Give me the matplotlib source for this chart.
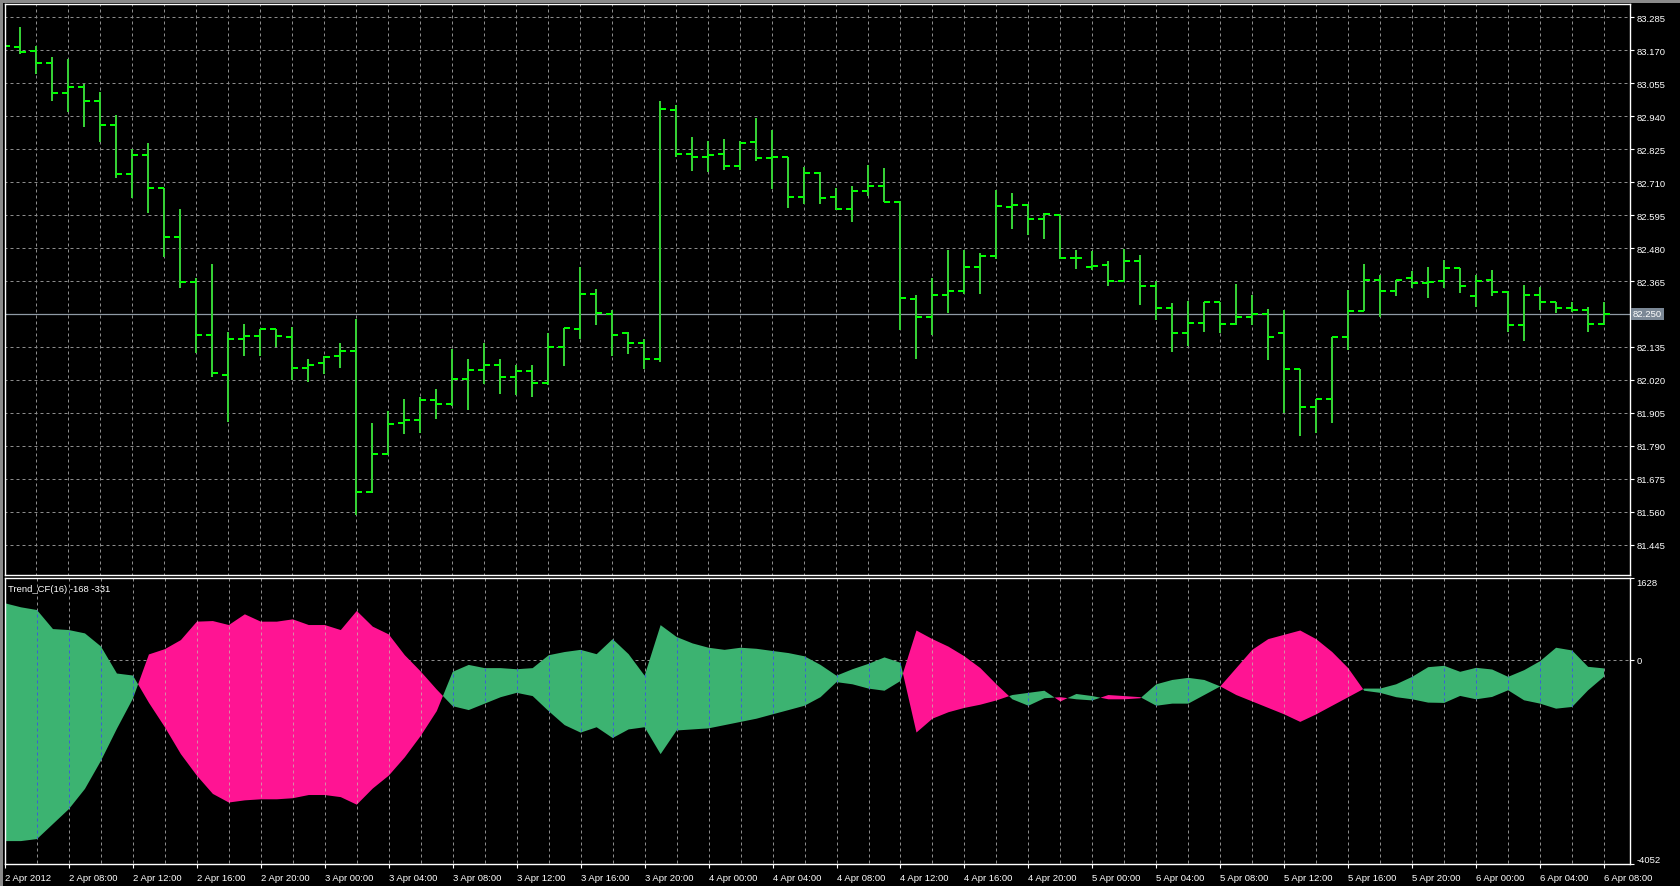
#!/usr/bin/env python
# -*- coding: utf-8 -*-

import numpy as np
import matplotlib
matplotlib.use("Agg")
import matplotlib.pyplot as plt
from matplotlib.path import Path
from matplotlib.patches import Rectangle
from matplotlib.transforms import blended_transform_factory

plt.rcParams["font.family"] = ["Liberation Sans", "DejaVu Sans"]

# USDJPY H1, 2 Apr 2012 04:00 .. 6 Apr 2012 08:00
opens = [
    83.190, 83.182, 83.166, 83.127, 83.021, 83.043, 82.994, 82.910, 82.738, 82.804,
    82.689, 82.518, 82.362, 82.177, 82.037, 82.162, 82.172, 82.197, 82.169, 82.060,
    82.078, 82.102, 82.121, 81.629, 81.761, 81.868, 81.880, 81.950, 81.935, 82.023,
    82.055, 82.071, 82.030, 82.051, 82.008, 82.134, 82.197, 82.319, 82.251, 82.185,
    82.149, 82.092, 82.962, 82.808, 82.798, 82.808, 82.767, 82.851, 82.795, 82.798,
    82.658, 82.743, 82.658, 82.616, 82.679, 82.697, 82.641, 82.303, 82.239, 82.315,
    82.329, 82.414, 82.453, 82.624, 82.631, 82.581, 82.596, 82.446, 82.414, 82.421,
    82.364, 82.435, 82.348, 82.270, 82.184, 82.218, 82.290, 82.215, 82.240, 82.250,
    82.184, 82.058, 81.925, 81.954, 82.169, 82.261, 82.369, 82.330, 82.374, 82.357,
    82.365, 82.412, 82.313, 82.369, 82.325, 82.213, 82.315, 82.290, 82.271, 82.264,
    82.216]
highs = [
    83.200, 83.250, 83.184, 83.145, 83.139, 83.052, 83.023, 82.945, 82.825, 82.845,
    82.689, 82.616, 82.374, 82.426, 82.188, 82.214, 82.199, 82.199, 82.206, 82.094,
    82.103, 82.150, 82.234, 81.871, 81.911, 81.952, 81.961, 81.987, 82.127, 82.092,
    82.148, 82.092, 82.071, 82.073, 82.185, 82.202, 82.414, 82.336, 82.264, 82.187,
    82.164, 82.992, 82.980, 82.869, 82.855, 82.862, 82.855, 82.932, 82.892, 82.798,
    82.762, 82.746, 82.688, 82.695, 82.770, 82.761, 82.645, 82.315, 82.377, 82.472,
    82.472, 82.461, 82.682, 82.672, 82.632, 82.602, 82.596, 82.474, 82.470, 82.436,
    82.477, 82.454, 82.364, 82.287, 82.294, 82.290, 82.290, 82.353, 82.315, 82.269,
    82.264, 82.058, 81.954, 82.171, 82.333, 82.424, 82.385, 82.369, 82.400, 82.415,
    82.438, 82.412, 82.385, 82.403, 82.329, 82.350, 82.344, 82.290, 82.290, 82.276,
    82.290]
lows = [
    83.180, 83.157, 83.087, 82.994, 82.953, 82.903, 82.851, 82.723, 82.655, 82.604,
    82.449, 82.339, 82.115, 82.031, 81.873, 82.103, 82.103, 82.133, 82.020, 82.013,
    82.039, 82.062, 81.548, 81.626, 81.759, 81.831, 81.836, 81.885, 81.929, 81.915,
    82.007, 81.972, 81.967, 81.961, 82.002, 82.069, 82.162, 82.213, 82.103, 82.112,
    82.057, 82.084, 82.796, 82.749, 82.747, 82.753, 82.753, 82.783, 82.685, 82.620,
    82.632, 82.635, 82.611, 82.571, 82.660, 82.639, 82.194, 82.092, 82.177, 82.252,
    82.321, 82.321, 82.443, 82.546, 82.526, 82.511, 82.443, 82.406, 82.405, 82.348,
    82.364, 82.282, 82.229, 82.117, 82.138, 82.187, 82.183, 82.212, 82.212, 82.090,
    81.903, 81.824, 81.833, 81.871, 82.124, 82.259, 82.241, 82.313, 82.339, 82.307,
    82.342, 82.323, 82.275, 82.311, 82.187, 82.156, 82.264, 82.252, 82.258, 82.188,
    82.211]
closes = [
    83.186, 83.165, 83.127, 83.021, 83.043, 82.994, 82.910, 82.738, 82.804, 82.689,
    82.520, 82.362, 82.177, 82.043, 82.162, 82.172, 82.197, 82.172, 82.060, 82.071,
    82.100, 82.121, 81.629, 81.761, 81.865, 81.880, 81.950, 81.935, 82.023, 82.055,
    82.071, 82.030, 82.051, 82.008, 82.134, 82.200, 82.319, 82.252, 82.177, 82.149,
    82.092, 82.966, 82.808, 82.798, 82.805, 82.767, 82.848, 82.794, 82.798, 82.658,
    82.743, 82.654, 82.616, 82.679, 82.697, 82.641, 82.306, 82.239, 82.315, 82.329,
    82.414, 82.453, 82.626, 82.631, 82.581, 82.599, 82.446, 82.446, 82.418, 82.364,
    82.435, 82.348, 82.270, 82.184, 82.218, 82.290, 82.215, 82.240, 82.250, 82.171,
    82.058, 81.925, 81.954, 82.169, 82.261, 82.369, 82.330, 82.369, 82.357, 82.362,
    82.412, 82.348, 82.365, 82.325, 82.213, 82.315, 82.290, 82.270, 82.263, 82.216,
    82.250]

# Trend_CF(16) buffers
trend_a = [
    1126, 1046, 992, 614, 594, 528, 269, -269, -309, -850,
    -1336, -1870, -2297, -2660, -2831, -2788, -2767, -2767, -2746, -2682,
    -2682, -2724, -2874, -2553, -2297, -1934, -1507, -1016, -235, -98,
    -162, -162, -184, -162, 94, 158, 201, 115, 414, 115,
    -312, 692, 457, 329, 243, 201, 243, 222, 179, 137,
    73, -98, -312, -184, -77, 51, -56, -1441, -1166, -1038,
    -952, -888, -803, -696, -653, -611, -824, -675, -717, -781,
    -781, -760, -483, -397, -355, -397, -525, -696, -824, -952,
    -1080, -1230, -1080, -909, -739, -568, -568, -483, -335, -143,
    -116, -235, -156, -189, -335, -203, -24, 243, 189, -136,
    -168]
trend_b = [
    -3597, -3597, -3557, -3258, -2960, -2561, -2003, -1365, -767, 110,
    215, 395, 761, 773, 694, 907, 761, 761, 807, 694,
    694, 594, 973, 662, 508, 96, -229, -587, -918, -995,
    -867, -739, -653, -717, -1016, -1294, -1443, -1336, -1550, -1379,
    -1336, -1870, -1400, -1379, -1358, -1294, -1230, -1166, -1080, -995,
    -909, -739, -440, -483, -568, -611, -418, 585, 414, 265,
    73, -162, -483, -781, -909, -760, -739, -781, -803, -696,
    -717, -739, -909, -867, -867, -696, -525, -162, 201, 414,
    500, 585, 414, 158, -162, -611, -653, -739, -781, -847,
    -853, -714, -781, -734, -602, -801, -867, -967, -933, -602,
    -331]

price_ticks = [81.445 + 0.115 * k for k in range(17)]
ind_ticks = [1628, 0, -4052]

time_idx = list(range(0, 101, 4))
time_labels = ["2 Apr 2012", "2 Apr 08:00", "2 Apr 12:00", "2 Apr 16:00", "2 Apr 20:00",
               "3 Apr 00:00", "3 Apr 04:00", "3 Apr 08:00", "3 Apr 12:00", "3 Apr 16:00",
               "3 Apr 20:00", "4 Apr 00:00", "4 Apr 04:00", "4 Apr 08:00", "4 Apr 12:00",
               "4 Apr 16:00", "4 Apr 20:00", "5 Apr 00:00", "5 Apr 04:00", "5 Apr 08:00",
               "5 Apr 12:00", "5 Apr 16:00", "5 Apr 20:00", "6 Apr 00:00", "6 Apr 04:00",
               "6 Apr 08:00"]

BG = "black"
FG = "white"
GRID = "#8c8c8c"
BAR_V = "#35cf35"
BAR_T = "#00ff00"
UP = "#3cb371"
DN = "#ff1493"
FS = 6.8

W, H = 1680, 887
fig = plt.figure(figsize=(W / 100, H / 100), dpi=100, facecolor=BG)


def px_axes(x0, y0, x1, y1):
    return fig.add_axes([x0 / W, 1 - y1 / H, (x1 - x0) / W, (y1 - y0) / H])


ax = px_axes(5, 5, 1630, 576)
ax2 = px_axes(5, 579, 1630, 865)

x = np.arange(len(closes))
xlim = (0.06, 101.62)
grid_x = np.arange(2, 101, 2)
dash = (0, (3, 3))

for a in (ax, ax2):
    a.set_facecolor(BG)
    a.set_xlim(*xlim)
    for s in a.spines.values():
        s.set_color(FG)
        s.set_linewidth(1.0)
    a.yaxis.tick_right()
    a.tick_params(axis="y", colors=FG, direction="out", length=3, width=0.8,
                  pad=1.5, labelsize=FS)

# ---- price panel
last = closes[-1]
ax.set_ylim(81.3392, 83.3315)
ax.vlines(grid_x, 81.0, 84.0, colors=GRID, linestyles=dash, lw=0.72, zorder=0.5)
ax.hlines(price_ticks, 0, 110, colors=GRID, linestyles=dash, lw=0.72, zorder=0.5)
ax.axhline(last, color="#8f9aa5", lw=0.9, zorder=0.6)

ax.vlines(x, lows, highs, colors=BAR_V, lw=1.44, zorder=2)
ax.hlines(opens, x - 0.375, x, colors=BAR_T, lw=1.44, zorder=2)
ax.hlines(closes, x, x + 0.375, colors=BAR_T, lw=1.44, zorder=2)

ax.set_xticks([])
ax.set_yticks(price_ticks)
# the tick at the last price is covered by the price tag
ax.set_yticklabels(["" if abs(p - last) < 1e-6 else "%.3f" % p for p in price_ticks])

tr = blended_transform_factory(ax.transAxes, ax.transData)
ax.text(1.0018, last, "%.3f" % last, transform=tr, color=FG,
        fontsize=FS, va="center", ha="left",
        bbox=dict(boxstyle="square,pad=0.18", fc="#7b8896", ec="none"))

# ---- indicator panel
ta = np.array(trend_a, float)
tb = np.array(trend_b, float)
ax2.set_ylim(-4052, 1628)
ax2.vlines(grid_x, -5000, 3000, colors=GRID, linestyles=dash, lw=0.72, zorder=0.5)
ax2.axhline(0, color=GRID, ls=dash, lw=0.72, zorder=0.5)

up = ax2.fill_between(x, ta, tb, where=ta >= tb, interpolate=True, color=UP, lw=0, zorder=1)
dn = ax2.fill_between(x, ta, tb, where=ta < tb, interpolate=True, color=DN, lw=0, zorder=1)

# grid dashes show through the filled area in a different colour
for coll, gc in ((up, "#3b5fd6"), (dn, "#d88aa6")):
    paths = coll.get_paths()
    if len(paths):
        clip = Path.make_compound_path(*paths)
        gl = ax2.vlines(grid_x, -5000, 3000, colors=gc, linestyles=dash, lw=0.72, zorder=1.5)
        gl.set_clip_path(clip, ax2.transData)

ax2.set_yticks(ind_ticks)
ax2.set_yticklabels([str(v) for v in ind_ticks])
lbls = ax2.get_yticklabels()
lbls[0].set_va("top")
lbls[-1].set_va("bottom")

ax2.set_xticks(time_idx)
ax2.set_xticklabels(time_labels, ha="left")
ax2.tick_params(axis="x", colors=FG, direction="out", length=3, width=0.8,
                pad=3.5, labelsize=FS)

ax2.text(0.002, 0.965, "Trend_CF(16) %d %d" % (trend_a[-1], trend_b[-1]),
         transform=ax2.transAxes, color=FG, fontsize=FS, va="center", ha="left")

# window border
fig.patches.append(Rectangle((0, 1 - 4 / H), 1, 4 / H, transform=fig.transFigure,
                             fc="#8a8a8a", ec="none"))
fig.patches.append(Rectangle((0, 0), 3 / W, 1, transform=fig.transFigure,
                             fc="#8a8a8a", ec="none"))

fig.savefig("out.png", dpi=100, facecolor=BG)
